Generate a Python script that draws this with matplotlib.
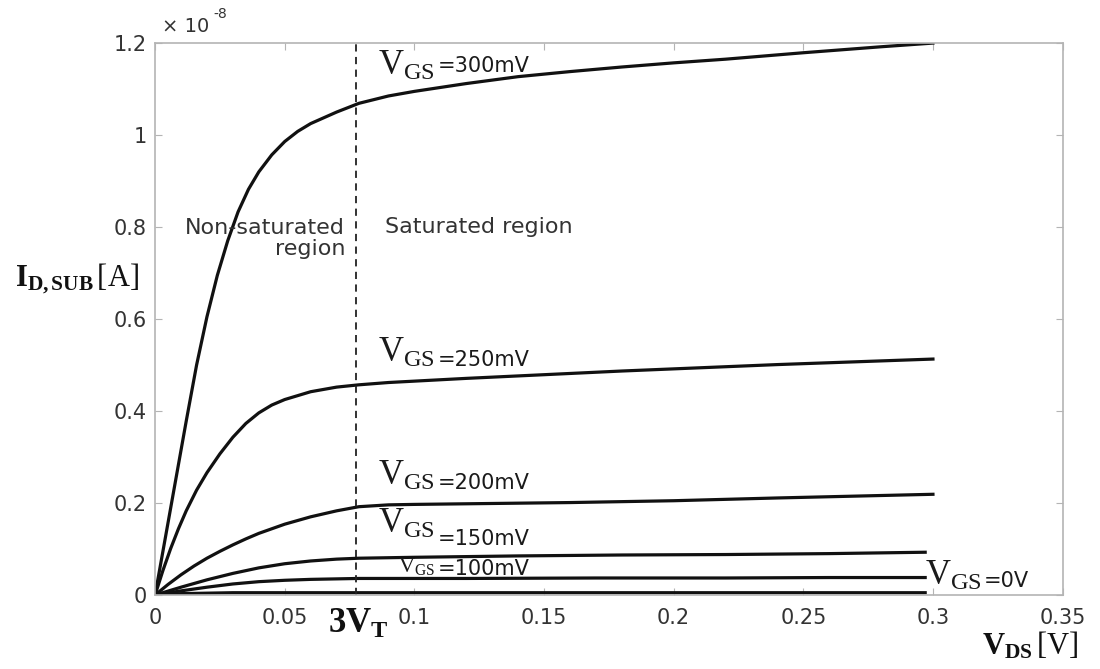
import matplotlib
matplotlib.use('Agg')
import matplotlib.pyplot as plt

# drain current vs drain-source voltage, subthreshold region
# currents are in units of 1e-8 A
vds_300 = [0, 0.004, 0.008, 0.012, 0.016, 0.020, 0.024, 0.028, 0.032, 0.036, 0.040, 0.045,
           0.050, 0.055, 0.060, 0.070, 0.0786, 0.09, 0.10, 0.12, 0.14, 0.16, 0.18, 0.20,
           0.22, 0.25, 0.28, 0.30]
id_300 = [0, 0.126, 0.252, 0.378, 0.50, 0.605, 0.695, 0.770, 0.833, 0.882, 0.920, 0.957,
          0.986, 1.008, 1.025, 1.050, 1.069, 1.085, 1.095, 1.112, 1.127, 1.138, 1.148, 1.157,
          1.165, 1.179, 1.192, 1.2]

vds_250 = [0, 0.003, 0.006, 0.009, 0.012, 0.016, 0.020, 0.025, 0.030, 0.035, 0.040, 0.045,
           0.050, 0.060, 0.070, 0.0786, 0.09, 0.10, 0.12, 0.15, 0.18, 0.21, 0.24, 0.27, 0.30]
id_250 = [0, 0.053, 0.101, 0.144, 0.183, 0.228, 0.266, 0.307, 0.343, 0.373, 0.396, 0.413,
          0.425, 0.442, 0.452, 0.457, 0.462, 0.465, 0.471, 0.479, 0.487, 0.494, 0.501, 0.507,
          0.513]

vds_200 = [0, 0.005, 0.010, 0.015, 0.020, 0.025, 0.030, 0.035, 0.040, 0.050, 0.060, 0.070,
           0.0786, 0.09, 0.10, 0.13, 0.16, 0.20, 0.24, 0.27, 0.30]
id_200 = [0, 0.023, 0.044, 0.063, 0.080, 0.095, 0.109, 0.122, 0.134, 0.154, 0.170, 0.183,
          0.192, 0.196, 0.197, 0.199, 0.201, 0.205, 0.211, 0.215, 0.219]

vds_150 = [0, 0.01, 0.02, 0.03, 0.04, 0.05, 0.06, 0.07, 0.0786, 0.10, 0.14, 0.18, 0.22, 0.26, 0.297]
id_150 = [0, 0.017, 0.033, 0.047, 0.059, 0.068, 0.074, 0.078, 0.080, 0.082, 0.085, 0.087,
          0.088, 0.090, 0.093]

vds_100 = [0, 0.01, 0.02, 0.03, 0.04, 0.05, 0.06, 0.0786, 0.12, 0.17, 0.22, 0.26, 0.297]
id_100 = [0, 0.009, 0.017, 0.024, 0.029, 0.032, 0.034, 0.036, 0.036, 0.037, 0.037, 0.038, 0.038]

vds_0 = [0, 0.01, 0.02, 0.03, 0.297]
id_0 = [0, 0.003, 0.004, 0.005, 0.005]

v_t3 = 0.0776  # 3 * kT/q at room temperature

x_ticks = [0, 0.05, 0.1, 0.15, 0.2, 0.25, 0.3, 0.35]
x_tick_labels = ['0', '0.05', '0.1', '0.15', '0.2', '0.25', '0.3', '0.35']
y_ticks = [0, 0.2, 0.4, 0.6, 0.8, 1.0, 1.2]
y_tick_labels = ['0', '0.2', '0.4', '0.6', '0.8', '1', '1.2']

plt.rcParams['mathtext.fontset'] = 'custom'
plt.rcParams['mathtext.rm'] = 'Liberation Serif'
plt.rcParams['mathtext.bf'] = 'Liberation Serif:bold'
plt.rcParams['mathtext.it'] = 'Liberation Serif:italic'

fig = plt.figure(figsize=(11, 6.69), dpi=100)
ax = fig.add_axes([0.141, 0.1106, 0.825, 0.825])

curve = dict(color='#111111', linewidth=2.3, solid_joinstyle='round')
ax.plot(vds_300, id_300, **curve)
ax.plot(vds_250, id_250, **curve)
ax.plot(vds_200, id_200, **curve)
ax.plot(vds_150, id_150, **curve)
ax.plot(vds_100, id_100, **curve)
ax.plot(vds_0, id_0, **curve)

dash, = ax.plot([v_t3, v_t3], [0, 1.2], color='#222222', linewidth=1.3)
dash.set_dashes([4, 3])

ax.set_xlim(0, 0.35)
ax.set_ylim(0, 1.2)
ax.set_xticks(x_ticks)
ax.set_xticklabels(x_tick_labels)
ax.set_yticks(y_ticks)
ax.set_yticklabels(y_tick_labels)

for side in ['left', 'right', 'top', 'bottom']:
    ax.spines[side].set_color('#b4b4b4')
    ax.spines[side].set_linewidth(1.2)
ax.tick_params(direction='in', length=5, color='#b4b4b4', labelsize=15,
               labelcolor='#333333', top=True, right=True)
ax.tick_params(axis='x', pad=9)
ax.tick_params(axis='y', pad=6)

# gate-voltage labels: (text, V_GS x, V_GS y, value x, value y, V_GS size)
vgs_labels = [
    ('=300mV', 0.086, 1.130, 0.1090, 1.137, 25),
    ('=250mV', 0.086, 0.506, 0.1090, 0.498, 25),
    ('=200mV', 0.086, 0.239, 0.1090, 0.230, 25),
    ('=150mV', 0.086, 0.135, 0.1090, 0.109, 25),
    ('=100mV', 0.0935, 0.049, 0.1090, 0.043, 16),
    ('=0V', 0.2968, 0.022, 0.3195, 0.017, 25),
]
for text, xv, yv, xt, yt, size in vgs_labels:
    ax.text(xv, yv, r'$\mathrm{V}_{\mathrm{GS}}$', fontsize=size, color='#1a1a1a',
            ha='left', va='baseline')
    ax.text(xt, yt, text, fontsize=15, color='#1a1a1a', ha='left', va='baseline')

ax.text(0.0733, 0.775, 'Non-saturated\nregion', fontsize=16, color='#333333',
        ha='right', va='center', multialignment='right', linespacing=1.1)
ax.text(0.0887, 0.80, 'Saturated region', fontsize=16, color='#333333',
        ha='left', va='center')

ax.text(v_t3 + 0.0006, -0.069, r'$\mathbf{3V}_{\mathbf{T}}$', fontsize=25, color='#111111',
        ha='center', va='baseline', transform=ax.get_xaxis_transform())

fig.text(0.07, 0.584, r'$\mathbf{I}_{\mathbf{D,SUB}}\,[\mathrm{A}]$', fontsize=22,
         color='#111111', ha='center', va='center')
fig.text(0.936, 0.036, r'$\mathbf{V}_{\mathbf{DS}}\,[\mathrm{V}]$', fontsize=22,
         color='#111111', ha='center', va='center')

# exponent for the y axis
fig.text(0.147, 0.952, '× 10', fontsize=14, color='#333333', ha='left', va='baseline')
fig.text(0.194, 0.973, '-8', fontsize=10, color='#333333', ha='left', va='baseline')

plt.savefig('out.png', dpi=100)
